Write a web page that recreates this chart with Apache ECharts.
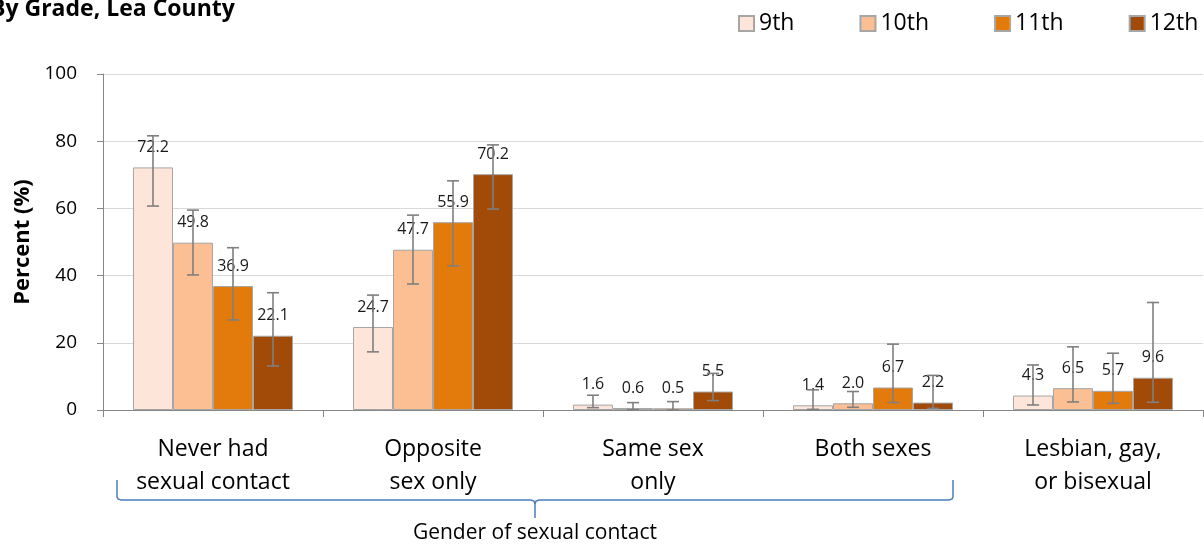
<!DOCTYPE html>
<html>
<head>
<meta charset="utf-8">
<script src="https://cdn.jsdelivr.net/npm/echarts@6/dist/echarts.min.js"></script>
<style>
html,body{margin:0;padding:0;background:#fff;}
#c1{width:1204px;height:544px;}
</style>
</head>
<body>
<div id="c1"></div>
<script>
// data
var categories = ['Never had\nsexual contact', 'Opposite\nsex only', 'Same sex\nonly', 'Both sexes', 'Lesbian, gay,\nor bisexual'];
var grades = ['9th', '10th', '11th', '12th'];
var colors = ['#FDE6D9', '#FBBF93', '#E27B0B', '#A24A08'];

var g9  = [72.2, 24.7, 1.6, 1.4, 4.3];
var g10 = [49.8, 47.7, 0.6, 2.0, 6.5];
var g11 = [36.9, 55.9, 0.5, 6.7, 5.7];
var g12 = [22.1, 70.2, 5.5, 2.2, 9.6];

// confidence intervals (low / high)
var g9Low  = [60.7, 17.3, 0.7, 0.2, 1.5];
var g9High = [81.6, 34.2, 4.4, 6.0, 13.4];
var g10Low  = [40.2, 37.5, 0.1, 0.8, 2.4];
var g10High = [59.5, 58.0, 2.2, 5.5, 18.8];
var g11Low  = [26.8, 42.9, 0.0, 2.2, 2.0];
var g11High = [48.3, 68.2, 2.5, 19.6, 16.9];
var g12Low  = [13.1, 59.8, 2.8, 0.5, 2.3];
var g12High = [34.9, 78.9, 10.9, 10.3, 32.0];

var yTicks = [0, 20, 40, 60, 80, 100];

var values = [g9, g10, g11, g12];
var lows = [g9Low, g10Low, g11Low, g12Low];
var highs = [g9High, g10High, g11High, g12High];

var FONT = '"Open Sans", "Noto Sans", sans-serif';
var GAP = 60 / 220; // category gap fraction

function errRender(idx){
    return function(params, api){
        var c = api.value(0);
        var lo = api.coord([c, api.value(1)]);
        var hi = api.coord([c, api.value(2)]);
        var band = api.size([1, 0])[0];
        var bw = band * (1 - GAP) / 4;
        var x = lo[0] + (idx - 1.5) * bw;
        var cap = 6;
        var st = {stroke:'#7F7F7F', lineWidth:1.6};
        return {
            type:'group',
            children:[
                {type:'line', shape:{x1:x, y1:hi[1], x2:x, y2:lo[1]}, style:st},
                {type:'line', shape:{x1:x-cap, y1:hi[1], x2:x+cap, y2:hi[1]}, style:st},
                {type:'line', shape:{x1:x-cap, y1:lo[1], x2:x+cap, y2:lo[1]}, style:st}
            ]
        };
    };
}

var series = [];
for (var i = 0; i < grades.length; i++) {
    series.push({
        name: grades[i],
        type: 'bar',
        barGap: 0,
        barCategoryGap: (GAP * 100) + '%',
        data: values[i],
        itemStyle: {color: colors[i], borderColor: '#A6A6A6', borderWidth: 1},
        label: {
            show: true, position: 'top', distance: 12,
            color: '#1a1a1a', fontSize: 16, fontFamily: FONT,
            formatter: function(p){ return p.value.toFixed(1); }
        }
    });
}
for (var j = 0; j < grades.length; j++) {
    var d = [];
    for (var k = 0; k < categories.length; k++) {
        d.push([k, lows[j][k], highs[j][k]]);
    }
    series.push({
        type: 'custom',
        name: 'err' + j,
        renderItem: errRender(j),
        encode: {x: 0, y: [1, 2]},
        data: d,
        z: 5,
        silent: true
    });
}

var chart = echarts.init(document.getElementById('c1'));
var option = {
    animation: false,
    textStyle: {fontFamily: FONT},
    title: {
        text: 'By Grade, Lea County',
        left: -15, top: -7,
        textStyle: {fontSize: 23, fontWeight: 'bold', color: '#000', fontFamily: FONT}
    },
    legend: {
        data: grades.map(function(g){ return {name: g, icon: 'rect'}; }),
        left: 733, top: 7,
        itemWidth: 15, itemHeight: 15, itemGap: 65,
        textStyle: {fontSize: 23, color: '#000', fontFamily: FONT}
    },
    grid: {left: 103, right: 1, top: 74, bottom: 134, outerBoundsMode: 'none', containLabel: false},
    xAxis: {
        type: 'category',
        data: categories,
        axisLine: {lineStyle: {color: '#868686'}},
        axisTick: {show: true, length: 7, lineStyle: {color: '#868686'}},
        axisLabel: {fontSize: 23, lineHeight: 33, margin: 23, color: '#000', fontFamily: FONT, interval: 0}
    },
    yAxis: {
        type: 'value',
        min: 0, max: 100, interval: 20,
        name: 'Percent (%)',
        nameLocation: 'middle',
        nameGap: 68,
        nameTextStyle: {fontSize: 22, fontWeight: 'bold', color: '#000', fontFamily: FONT},
        axisLine: {show: true, lineStyle: {color: '#868686'}},
        axisTick: {show: true, length: 6, lineStyle: {color: '#868686'}},
        splitLine: {lineStyle: {color: '#D9D9D9'}},
        axisLabel: {fontSize: 19, color: '#000', margin: 26, fontFamily: FONT,
            formatter: function(v){ return yTicks.indexOf(v) >= 0 ? String(v) : ''; }}
    },
    series: series
};
chart.setOption(option);

// bracket under the first four categories
var c0 = chart.convertToPixel({xAxisIndex: 0}, 0);
var c3 = chart.convertToPixel({xAxisIndex: 0}, 3);
var x0 = c0 - 96, x1 = c3 + 80, mid = (x0 + x1) / 2;
var yTop = 480, yH = 500, yTip = 518;
chart.setOption({
    graphic: [
        {
            type: 'polyline',
            shape: {
                points: [
                    [x0, yTop], [x0, yH - 3], [x0 + 1, yH - 1], [x0 + 4, yH],
                    [mid - 4, yH], [mid - 1, yH + 1], [mid, yH + 4], [mid, yTip],
                    [mid, yH + 4], [mid + 1, yH + 1], [mid + 4, yH],
                    [x1 - 4, yH], [x1 - 1, yH - 1], [x1, yH - 3], [x1, yTop]
                ]
            },
            style: {stroke: '#4A7EBB', lineWidth: 1.5, fill: null}
        },
        {
            type: 'text',
            x: mid, y: 533,
            style: {text: 'Gender of sexual contact', fontSize: 21, fontFamily: FONT, fill: '#000',
                align: 'center', verticalAlign: 'middle'}
        }
    ]
});
</script>
</body>
</html>
